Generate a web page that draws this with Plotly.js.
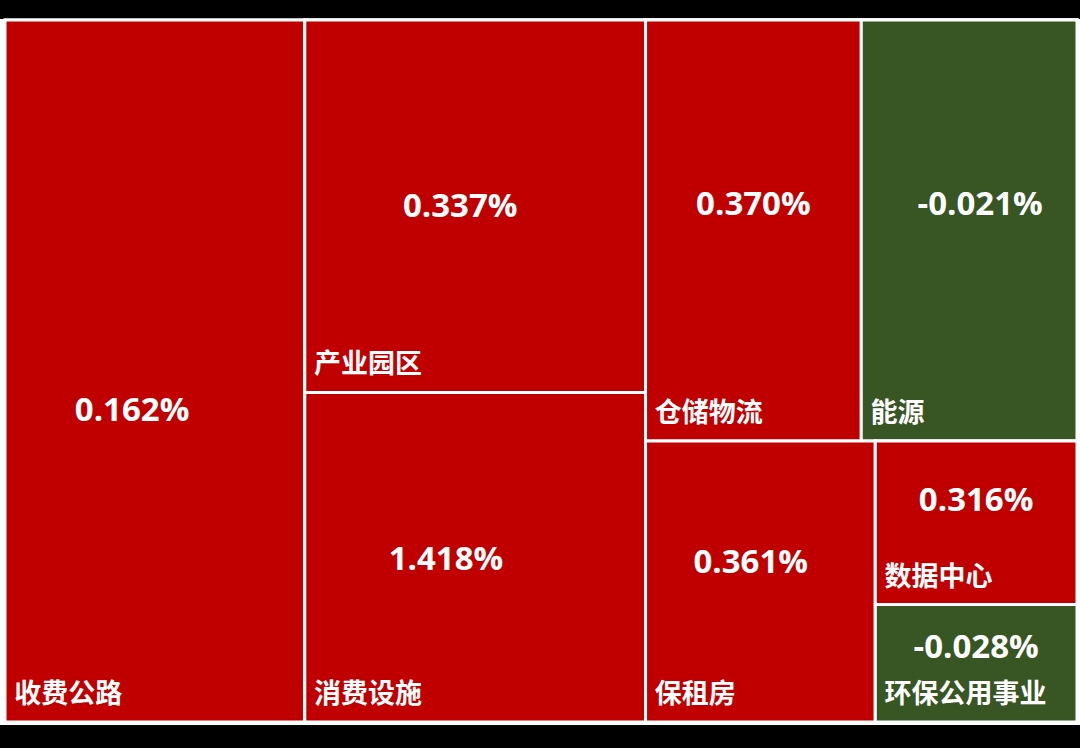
<!DOCTYPE html>
<html><head><meta charset="utf-8">
<script src="https://cdn.plot.ly/plotly-3.0.1.min.js"></script>
<style>html,body{margin:0;padding:0;background:#000;}#chart{width:1080px;height:748px;}</style>
</head><body><div id="chart"></div>
<script>
// sector data
const sectors = ["收费公路","产业园区","消费设施","仓储物流","能源","保租房","数据中心","环保公用事业"];
const weights = [210.6, 127.0, 112.4, 90.9, 90.9, 64.6, 33.0, 23.7];
const changes = [0.162, 0.337, 1.418, 0.370, -0.021, 0.361, 0.316, -0.028];

// nesting (for slice-dice tiling)
const nodeIds     = ["全部","收费公路","列2","产业园区","消费设施","列3","列3上","仓储物流","能源","列3下","保租房","列3下右","数据中心","环保公用事业"];
const nodeParents = ["","全部","全部","列2","列2","全部","列3","列3上","列3上","列3","列3下","列3下","列3下右","列3下右"];

// ---- style ----
const RED = "#C00000", GREEN = "#375623";
const NBSP = "\u00a0";
const PCT_SIZE = 33, PCT_BASE = 5;      // value label font size; base size used for spacer lines
const NAME_SIZE = 27, NAME_BASE = 10;   // name label font size; base size for bottom spacer
// nudges of the value labels (px; dy + = down, dx + = right) to mimic the reference placement
const pctNudgeY = {"收费公路": 38, "产业园区": -3, "仓储物流": -28, "能源": -28, "保租房": -22, "数据中心": -26, "环保公用事业": -19};
const pctNudgeX = {"收费公路": -23, "产业园区": -15, "消费设施": -29, "保租房": -10, "能源": 11};

function pctLabel(name, txt) {
  const dy = pctNudgeY[name] || 0;
  const dx = pctNudgeX[name] || 0;
  const line = 1.3 * PCT_BASE;
  const spW = 0.26 * PCT_BASE;
  const nx = Math.round(2 * Math.abs(dx) / spW);
  let main = '<span style="font-size:' + PCT_SIZE + 'px">' + txt + '</span>';
  if (dx < 0) main = main + NBSP.repeat(nx);
  else if (dx > 0) main = NBSP.repeat(nx) + main;
  if (dy < 0) {
    const n = Math.max(0, Math.round((-2 * dy + 7.6) / line));
    return main + ("<br>" + NBSP).repeat(n);
  } else if (dy > 0) {
    const n = Math.max(0, Math.round((dy + 13.9) / (line / 2)));
    return (NBSP + "<br>").repeat(n) + main;
  }
  return main;
}
function nameLabel(name) {
  return '<span style="font-size:' + NAME_SIZE + 'px">' + NBSP + name + '</span><br>' + NBSP;
}

const idx = nodeIds.map(id => sectors.indexOf(id));
const vals = idx.map(i => i >= 0 ? weights[i] : 0);
const cols = idx.map(i => i < 0 ? "#FFFFFF" : (changes[i] >= 0 ? RED : GREEN));
const pctText = idx.map(i => i >= 0 ? pctLabel(sectors[i], changes[i].toFixed(3) + "%") : "");
const nameText = idx.map(i => i >= 0 ? nameLabel(sectors[i]) : "");

const common = {
  type: "treemap",
  ids: nodeIds, labels: nodeIds, parents: nodeParents, values: vals,
  branchvalues: "remainder", sort: false,
  tiling: {packing: "slice-dice", pad: 0},
  pathbar: {visible: false},
  leaf: {opacity: 1},
  hoverinfo: "skip",
  textinfo: "none",
  domain: {x: [0, 1], y: [0, 1]}
};

const t1 = Object.assign({}, common, {
  marker: {colors: cols, line: {color: "#FFFFFF", width: 3}, pad: {t: 0, l: 0, r: 0, b: 0}, depthfade: false},
  customdata: pctText,
  texttemplate: "%{customdata}",
  textposition: "middle center",
  textfont: {family: "Open Sans, Noto Sans, sans-serif", size: PCT_BASE, color: "#FFFFFF", weight: "bold"}
});

const t2 = Object.assign({}, common, {
  marker: {colors: nodeIds.map(() => "rgba(0,0,0,0)"), line: {color: "rgba(0,0,0,0)", width: 0}, pad: {t: 0, l: 0, r: 0, b: 0}, depthfade: false},
  customdata: nameText,
  texttemplate: "%{customdata}",
  textposition: "bottom left",
  textfont: {family: "Noto Sans CJK SC, sans-serif", size: NAME_BASE, color: "#FFFFFF", weight: "bold"}
});

const layout = {
  width: 1080, height: 748,
  margin: {l: 5, r: 3, t: 20, b: 26},
  paper_bgcolor: "#000000",
  showlegend: false,
  shapes: [{type: "rect", xref: "paper", yref: "paper", x0: -5/1072, x1: 1 + 3/1072, y0: -3/702, y1: 1 + 1/702,
            fillcolor: "#FFFFFF", line: {width: 0}, layer: "below"}]
};

Plotly.newPlot("chart", [t1, t2], layout, {displayModeBar: false, staticPlot: true});
</script>
</body></html>
